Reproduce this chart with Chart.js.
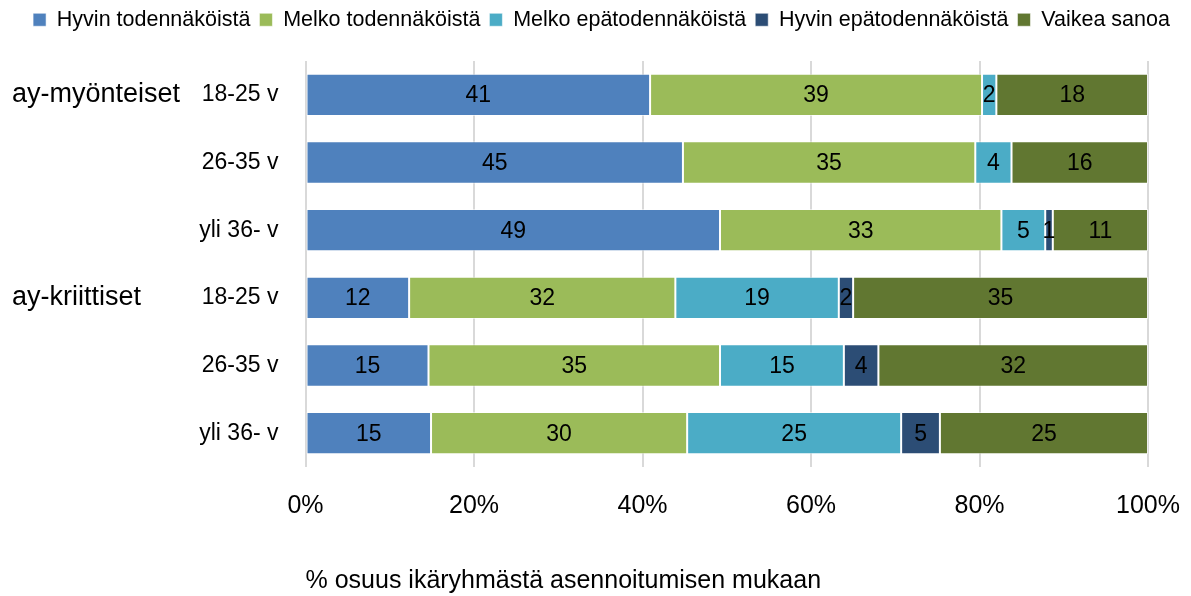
<!DOCTYPE html>
<html lang="fi">
<head>
<meta charset="utf-8">
<title>Asennoituminen ikäryhmittäin</title>
<script src="https://cdn.jsdelivr.net/npm/chart.js@4.4.0/dist/chart.umd.min.js"></script>
<style>
    body { margin: 0; background: #fff; }
    #graficoBarra { width: 1191px; height: 596px; }
</style>
</head>
<body>
<div id="graficoBarra"><canvas id="grafico1" width="1191" height="596"></canvas></div>
<script>
// Kategoriat (ikäryhmät) ja ryhmien otsikot
const ikaryhmat = ['18-25 v', '26-35 v', 'yli 36- v', '18-25 v', '26-35 v', 'yli 36- v'];
const ryhmat = ['ay-myönteiset', '', '', 'ay-kriittiset', '', ''];

// % osuudet, luettu kuvasta
const hyvinTod = [40.9, 44.8, 49.2, 12.3, 14.6, 14.9];
const melkoTod = [39.4, 34.7, 33.4, 31.6, 34.6, 30.4];
const melkoEpa = [1.7, 4.3, 5.2, 19.4, 14.7, 25.4];
const hyvinEpa = [0, 0, 0.9, 1.7, 4.1, 4.6];
const vaikea = [18.0, 16.2, 11.3, 35.0, 32.0, 24.7];

const xTicks = [0, 20, 40, 60, 80, 100];
const otsikko = '% osuus ikäryhmästä asennoitumisen mukaan';

const fontti = "'Liberation Sans', Arial, sans-serif";
Chart.defaults.font.family = fontti;
Chart.defaults.color = '#000';

// numerot palkkien sisään
const arvotPalkeissa = {
    id: 'arvotPalkeissa',
    afterDatasetsDraw(chart) {
        const ctx = chart.ctx;
        ctx.save();
        ctx.font = '23px ' + fontti;
        ctx.fillStyle = '#000';
        ctx.textAlign = 'center';
        ctx.textBaseline = 'middle';
        chart.data.datasets.forEach((ds, i) => {
            chart.getDatasetMeta(i).data.forEach((bar, j) => {
                const v = ds.data[j];
                if (!v) return;
                ctx.fillText(Math.round(v), (bar.x + bar.base) / 2, bar.y + 1);
            });
        });
        ctx.restore();
    }
};

// legendan korkeus kiinteäksi
const legendanKorkeus = {
    id: 'legendanKorkeus',
    beforeInit(chart) {
        if (!chart.legend) return;
        const fitAlkup = chart.legend.fit;
        chart.legend.fit = function () {
            fitAlkup.bind(chart.legend)();
            this.height = 61;
        };
    }
};

const dados1 = {
    labels: ikaryhmat,
    datasets: [
        { label: 'Hyvin todennäköistä', data: hyvinTod, backgroundColor: '#4F81BD' },
        { label: 'Melko todennäköistä', data: melkoTod, backgroundColor: '#9BBB59' },
        { label: 'Melko epätodennäköistä', data: melkoEpa, backgroundColor: '#4BACC6' },
        { label: 'Hyvin epätodennäköistä', data: hyvinEpa, backgroundColor: '#2C4D75' },
        { label: 'Vaikea sanoa', data: vaikea, backgroundColor: '#617731' }
    ].map(ds => Object.assign(ds, {
        borderColor: 'rgba(255,255,255,0.55)',
        borderWidth: 1,
        borderSkipped: false,
        categoryPercentage: 0.625,
        barPercentage: 1
    }))
};

const config1 = {
    type: 'bar',
    data: dados1,
    plugins: [arvotPalkeissa, legendanKorkeus],
    options: {
        indexAxis: 'y',
        responsive: false,
        maintainAspectRatio: false,
        animation: false,
        layout: { padding: { left: 12, right: 0, top: 0, bottom: 0 } },
        plugins: {
            tooltip: { enabled: false },
            legend: {
                position: 'top',
                labels: { boxWidth: 13, boxHeight: 13, padding: 9, font: { size: 21.5 } }
            }
        },
        scales: {
            x: {
                stacked: true,
                min: 0,
                max: 100,
                afterBuildTicks(scale) { scale.ticks = xTicks.map(v => ({ value: v })); },
                ticks: { padding: 24, font: { size: 25 }, callback: v => v + '%' },
                grid: { color: '#d9d9d9', lineWidth: 2, drawTicks: false },
                border: { display: false },
                title: { display: true, text: otsikko, align: 'start', font: { size: 25 }, padding: { top: 0, bottom: 0 } },
                afterFit(scale) {
                    scale.height = 129;
                    scale.paddingLeft = 0;
                    scale.paddingRight = 43;
                }
            },
            y: {
                stacked: true,
                ticks: { padding: 19, font: { size: 23 } },
                grid: { display: false },
                border: { display: false },
                afterFit(scale) { scale.width = 113.5; }
            },
            ryhma: {
                type: 'category',
                labels: ryhmat,
                position: 'left',
                offset: true,
                weight: 1,
                ticks: { crossAlign: 'far', padding: 0, font: { size: 27 }, autoSkip: false },
                grid: { display: false },
                border: { display: false },
                afterFit(scale) { scale.width = 180; }
            }
        }
    }
};

const grafico1 = new Chart(
    document.getElementById('grafico1'),
    config1
);
</script>
</body>
</html>
